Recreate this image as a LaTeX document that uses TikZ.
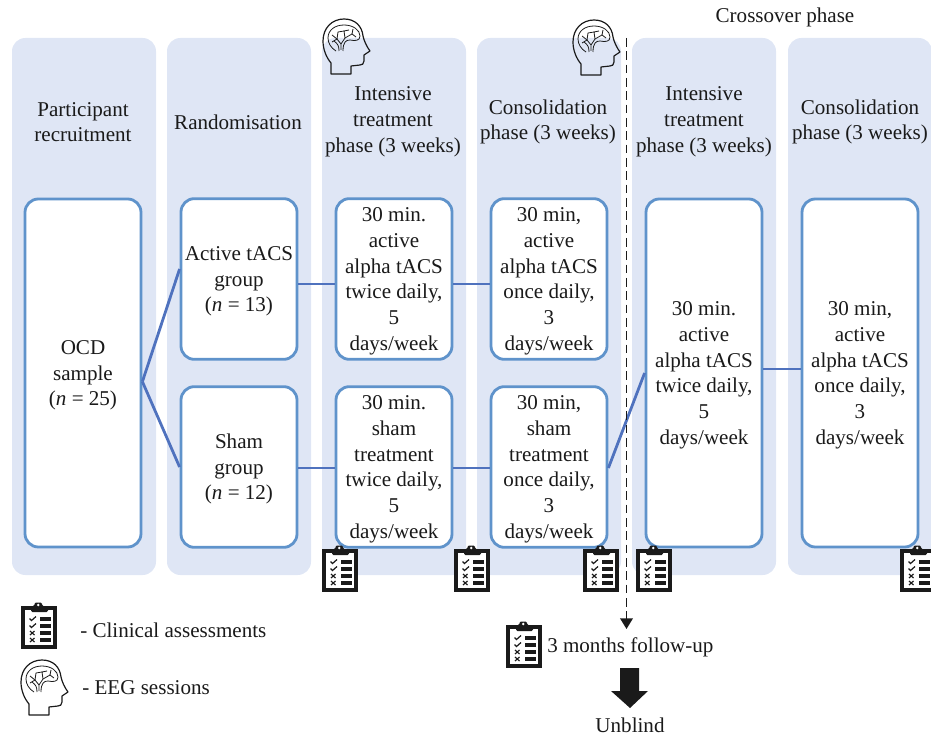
\documentclass[tikz,border=0pt]{standalone}
\usepackage{fontspec}
\setmainfont{Liberation Serif}
\usepackage{xcolor}
\usetikzlibrary{arrows.meta}

\definecolor{panelblue}{HTML}{DFE6F5}
\definecolor{boxblue}{HTML}{5F93CB}
\definecolor{linkblue}{HTML}{4F72BE}
\definecolor{inkgrey}{HTML}{1A1A1A}

\tikzset{
  panelbox/.style={draw=none, fill=panelblue, rounded corners=10pt, minimum width=108pt, minimum height=402.75pt, inner sep=0pt},
  stepbox/.style={draw=boxblue, line width=2.1pt, fill=white, rounded corners=10pt, minimum width=87pt, inner sep=0pt, align=center, text=inkgrey},
  threeline/.style={stepbox, text height=52.6pt},
  sixline/.style={stepbox, text height=110.5pt},
  plaintext/.style={align=center, inner sep=0pt, text=inkgrey},
  linkline/.style={draw=linkblue, line width=2.1pt},
  clipboard/.pic={
    \draw[inkgrey, line width=2.8pt, fill=white] (1.9, 1.9) rectangle (34.1, 41.1);
    \fill[inkgrey, rounded corners=1pt] (10, 6) -- (10, 0) -- (13.5, 0) -- (13.5, -3.5) -- (21, -3.5) -- (21, 0) -- (27, 0) -- (27, 6) -- cycle;
    \fill[white] (17.3, -1) circle (1.4);
    \foreach \y in {13, 20, 27, 34}
      \fill[inkgrey] (19, \y-1.7) rectangle (30, \y+1.7);
    \foreach \y in {13, 20}
      \draw[inkgrey, line width=0.9pt] (8.5, \y-0.5) -- (10.5, \y+1.5) -- (15, \y-2.5);
    \foreach \y in {27, 34} {
      \draw[inkgrey, line width=0.9pt] (9, \y-2) -- (13.5, \y+2);
      \draw[inkgrey, line width=0.9pt] (9, \y+2) -- (13.5, \y-2);
    }
  },
  brainhead/.pic={
    \draw[inkgrey, line width=0.9pt, line join=round]
      (8, 55) -- (8, 44) .. controls (3, 38) and (0, 30) .. (0, 22)
      .. controls (0, 9) and (9, 0) .. (21, 0)
      .. controls (32, 0) and (39, 7) .. (40, 17)
      .. controls (41, 22) and (44, 28) .. (47, 32)
      -- (41, 36) -- (41, 42) .. controls (41, 45) and (39, 46) .. (37, 46)
      -- (28, 47) -- (28, 55) -- cycle;
    \draw[inkgrey, line width=0.6pt, line join=round]
      (13, 32) .. controls (8, 29) and (5, 24) .. (5, 19)
      .. controls (5, 11) and (12, 6) .. (21, 6)
      .. controls (30, 6) and (37, 11) .. (37, 17)
      .. controls (37, 22) and (32, 22) .. (27, 21)
      .. controls (23, 21) and (20, 23) .. (20, 32);
    \draw[inkgrey, line width=0.6pt] (16, 32) .. controls (16, 27) and (15, 25) .. (11, 22);
    \draw[inkgrey, line width=0.6pt] (18, 31) -- (18, 25) -- (14, 20) -- (15, 13);
    \draw[inkgrey, line width=0.6pt] (9, 16) -- (14, 20) -- (9, 23);
    \draw[inkgrey, line width=0.6pt] (18, 25) -- (22, 19) -- (21, 12) -- (26, 11);
    \draw[inkgrey, line width=0.6pt] (15, 13) -- (21, 12);
    \draw[inkgrey, line width=0.6pt] (22, 19) -- (29, 15) -- (33, 18);
    \draw[inkgrey, line width=0.6pt] (29, 15) -- (30, 10);
  }
}

\begin{document}
\begin{tikzpicture}[x=0.75pt, y=-0.75pt, font=\fontsize{15.8}{19.3}\selectfont]

  \useasboundingbox (0, 0) rectangle (931, 737);

  % panels
  \foreach \x/\name in {84/recruit, 239/random, 394/intensive, 549/consol, 704/crossint, 860/crosscons}
    \node[panelbox] (\name) at (\x, 306.5) {};

  % panel titles
  \node[plaintext] (recruittitle) at (83, 122) {Participant\\recruitment};
  \node[plaintext] (randomtitle) at (238, 122) {Randomisation};
  \node[plaintext] (intensivetitle) at (393, 122) {Intensive\\treatment\\phase (3 weeks)};
  \node[plaintext] (consoltitle) at (548, 122) {Consolidation\\phase (3 weeks)};
  \node[plaintext] (crossinttitle) at (704, 122) {Intensive\\treatment\\phase (3 weeks)};
  \node[plaintext] (crossconstitle) at (860, 122) {Consolidation\\phase (3 weeks)};
  \node[plaintext] (crossover) at (785, 17) {Crossover phase};

  % boxes
  \node[threeline, minimum height=261pt] (ocd) at (83, 373) {OCD\\sample\\(\textit{n} = 25)};
  \node[threeline, minimum height=120.5pt] (active) at (239, 279) {Active tACS\\group\\(\textit{n} = 13)};
  \node[threeline, minimum height=120.5pt] (sham) at (239, 467) {Sham\\group\\(\textit{n} = 12)};
  \node[sixline, minimum height=120.5pt] (activeint) at (394, 279) {30 min.\\active\\alpha tACS\\twice daily,\\5\\ days/week};
  \node[sixline, minimum height=120.5pt] (shamint) at (394, 467) {30 min.\\sham\\treatment\\twice daily,\\5\\ days/week};
  \node[sixline, minimum height=120.5pt] (activecons) at (549, 279) {30 min,\\active\\alpha tACS\\once daily,\\3\\ days/week};
  \node[sixline, minimum height=120.5pt] (shamcons) at (549, 467) {30 min,\\sham\\treatment\\once daily,\\3\\ days/week};
  \node[sixline, minimum height=261pt] (crossa) at (704, 373) {30 min.\\active\\alpha tACS\\twice daily,\\5\\ days/week};
  \node[sixline, minimum height=261pt] (crossb) at (860, 373) {30 min,\\active\\alpha tACS\\once daily,\\3\\ days/week};

  % links
  \draw[linkline] ([yshift=-6.5pt]ocd.east) -- ([yshift=7.5pt]active.west);
  \draw[linkline] ([yshift=-6.5pt]ocd.east) -- (sham.west);
  \draw[linkline] ([yshift=-3.75pt]active.east) -- ([yshift=-3.75pt]activeint.west);
  \draw[linkline] ([yshift=-0.75pt]sham.east) -- ([yshift=-0.75pt]shamint.west);
  \draw[linkline] ([yshift=-3.75pt]activeint.east) -- ([yshift=-3.75pt]activecons.west);
  \draw[linkline] ([yshift=-0.75pt]shamint.east) -- ([yshift=-0.75pt]shamcons.west);
  \draw[linkline] ([yshift=-0.75pt]shamcons.east) -- (crossa.west);
  \draw[linkline] ([yshift=3pt]crossa.east) -- ([yshift=3pt]crossb.west);

  % dashed line to follow-up
  \coordinate (dashtop) at (626.5, 38);
  \coordinate (dashend) at (626.5, 629);
  \draw[inkgrey, line width=1.25pt, dash pattern=on 6.5pt off 3.5pt, -{Triangle[length=8pt, width=9.5pt]}] (dashtop) -- (dashend);

  % icons
  \foreach \x/\y in {322/549, 454/549, 583/549, 636/549, 900/549, 21/606, 506/625}
    \pic at (\x, \y) {clipboard};
  \foreach \x/\y in {323/19, 573/20, 21/660}
    \pic at (\x, \y) {brainhead};

  % legend
  \node[plaintext, anchor=west] (clinical) at (80, 630) {- Clinical assessments};
  \node[plaintext, anchor=west] (eeg) at (82, 688) {- EEG sessions};

  % follow-up
  \node[plaintext, anchor=west] (followup) at (547, 647) {3 months follow-up};
  \fill[inkgrey] (620, 668) -- (639, 668) -- (639, 691) -- (648, 691) -- (630, 708) -- (611, 691) -- (620, 691) -- cycle;
  \node[plaintext] (unblind) at (630, 725) {Unblind};

\end{tikzpicture}
\end{document}
